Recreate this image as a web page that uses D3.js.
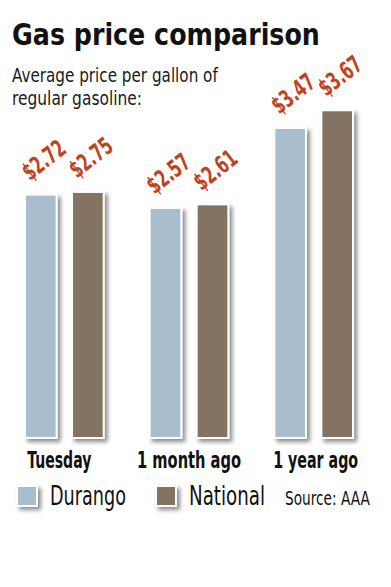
<!DOCTYPE html>
<html>
<head>
<meta charset="utf-8">
<script src="https://cdn.jsdelivr.net/npm/d3@7"></script>
<style>
  body { margin: 0; background: #fff; }
  svg { display: block; }
</style>
</head>
<body>
<div id="chart"></div>
<script>
const categories = ["Tuesday", "1 month ago", "1 year ago"];
const seriesNames = ["Durango", "National"];
const durango = [2.72, 2.57, 3.47];
const national = [2.75, 2.61, 3.67];
const valueLabels = [["$2.72", "$2.57", "$3.47"], ["$2.75", "$2.61", "$3.67"]];

const width = 391, height = 587;
const color = d3.scaleOrdinal().domain(seriesNames).range(["#a8bdcd", "#857361"]);
const labelRed = "#c1431d";
const condensed = "'DejaVu Sans Condensed', 'DejaVu Sans', 'Liberation Sans', sans-serif";

const svg = d3.select("#chart").append("svg")
  .attr("width", width)
  .attr("height", height);

// squeeze a text horizontally so it spans w pixels (the original uses a condensed face)
function squeeze(sel, x, y, w, extra) {
  sel.each(function (d) {
    const t = d3.select(this);
    const n = this.getComputedTextLength();
    const ww = typeof w === "function" ? w(d) : w;
    const xx = typeof x === "function" ? x(d) : x;
    const yy = typeof y === "function" ? y(d) : y;
    t.attr("transform", `translate(${xx},${yy}) ${extra || ""} scale(${ww / n},1)`);
  });
}

// drop shadow for the bars and legend swatches
const defs = svg.append("defs");
defs.append("filter")
  .attr("id", "shadow")
  .attr("x", "-30%").attr("y", "-30%")
  .attr("width", "170%").attr("height", "170%")
  .append("feDropShadow")
  .attr("dx", 3).attr("dy", 3)
  .attr("stdDeviation", 2)
  .attr("flood-color", "#000")
  .attr("flood-opacity", 0.45);

// Title + subtitle
svg.append("text")
  .attr("font-family", condensed)
  .attr("font-weight", "bold")
  .attr("font-size", 31)
  .attr("fill", "#111")
  .text("Gas price comparison")
  .call(squeeze, 12, 45, 308);

svg.append("text")
  .attr("font-family", condensed)
  .attr("font-size", 19)
  .attr("fill", "#1a1a1a")
  .text("Average price per gallon of")
  .call(squeeze, 12, 82, 206);

svg.append("text")
  .attr("font-family", condensed)
  .attr("font-size", 19)
  .attr("fill", "#1a1a1a")
  .text("regular gasoline:")
  .call(squeeze, 12, 105, 130);

// Scales
const x0 = d3.scaleBand().domain(categories).range([2, 376]);
const x1 = d3.scaleBand().domain(seriesNames).range([0, x0.bandwidth()])
  .paddingInner(0.37).paddingOuter(0.51);
const y = d3.scaleLinear().domain([0, 4]).range([437, 82]);

const rows = [];
categories.forEach((c, i) => {
  rows.push({ cat: c, series: "Durango", value: durango[i], label: valueLabels[0][i] });
  rows.push({ cat: c, series: "National", value: national[i], label: valueLabels[1][i] });
});

const bars = svg.append("g").selectAll("g")
  .data(rows)
  .join("g")
  .attr("transform", d => `translate(${x0(d.cat) + x1(d.series)},0)`);

// white frame with shadow
bars.append("rect")
  .attr("x", -2)
  .attr("y", d => y(d.value) - 2)
  .attr("width", x1.bandwidth() + 4)
  .attr("height", d => y(0) - y(d.value) + 4)
  .attr("fill", "#fff")
  .attr("filter", "url(#shadow)");

bars.append("rect")
  .attr("x", 0)
  .attr("y", d => y(d.value))
  .attr("width", x1.bandwidth())
  .attr("height", d => y(0) - y(d.value))
  .attr("fill", d => color(d.series));

// angled value labels
bars.append("text")
  .attr("text-anchor", "middle")
  .attr("font-family", condensed)
  .attr("font-weight", "bold")
  .attr("font-size", 24)
  .attr("fill", labelRed)
  .text(d => d.label)
  .call(squeeze, x1.bandwidth() / 2 + 8, d => y(d.value) - 29, 48, "rotate(-38)");

// Category labels
const catWidths = { "Tuesday": 64, "1 month ago": 104, "1 year ago": 85 };
const catShift = { "Tuesday": -5, "1 month ago": 0, "1 year ago": 2 };
svg.append("g").selectAll("text")
  .data(categories)
  .join("text")
  .attr("text-anchor", "middle")
  .attr("font-family", condensed)
  .attr("font-weight", "bold")
  .attr("font-size", 23)
  .attr("fill", "#111")
  .text(d => d)
  .call(squeeze, d => x0(d) + x0.bandwidth() / 2 + catShift[d], 468, d => catWidths[d]);

// Legend
const legendX = { "Durango": 18, "National": 157 };
const legend = svg.append("g").selectAll("g")
  .data(seriesNames)
  .join("g")
  .attr("transform", d => `translate(${legendX[d]},487)`);

legend.append("rect")
  .attr("x", -2).attr("y", -2)
  .attr("width", 22).attr("height", 22)
  .attr("fill", "#fff")
  .attr("filter", "url(#shadow)");

legend.append("rect")
  .attr("width", 18).attr("height", 18)
  .attr("fill", d => color(d));

legend.append("text")
  .attr("font-family", condensed)
  .attr("font-size", 27)
  .attr("fill", "#111")
  .text(d => d)
  .call(squeeze, 32, 18, 76);

svg.append("text")
  .attr("font-family", condensed)
  .attr("font-size", 20)
  .attr("fill", "#111")
  .text("Source: AAA")
  .call(squeeze, 285, 505, 85);
</script>
</body>
</html>
